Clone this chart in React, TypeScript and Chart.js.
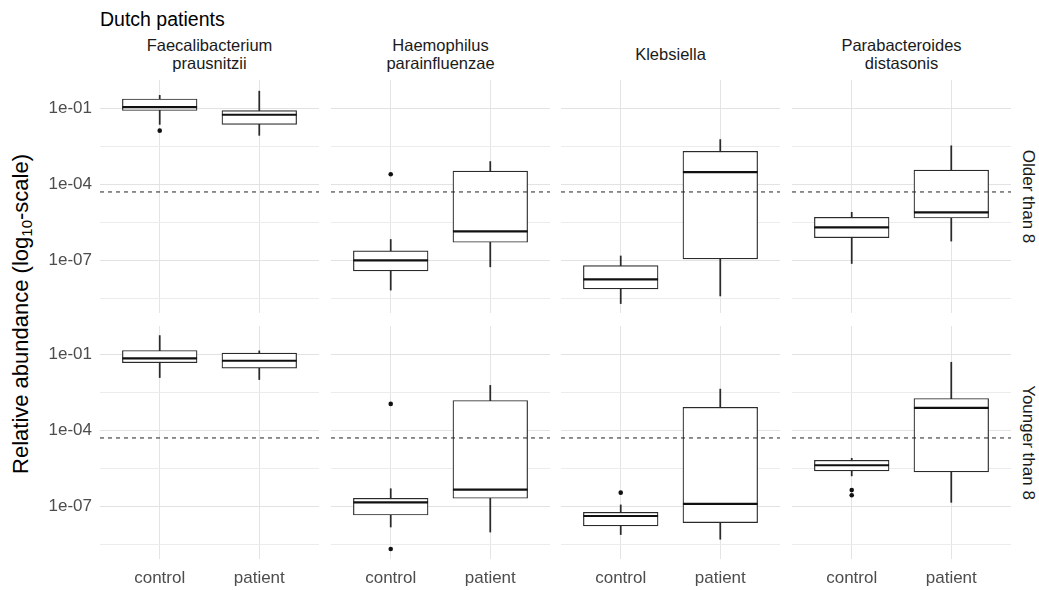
import React, { useEffect, useRef } from "react";
import { Chart, registerables } from "chart.js";

Chart.register(...registerables);

// ---------- data ----------
const groups = ["control", "patient"];
const groupPositions = [1, 2];
const species = [
  ["Faecalibacterium", "prausnitzii"],
  ["Haemophilus", "parainfluenzae"],
  ["Klebsiella"],
  ["Parabacteroides", "distasonis"],
];
const ageGroups = ["Older than 8", "Younger than 8"];
const tickValues = [1e-7, 1e-4, 1e-1];
const tickLabels = ["1e-07", "1e-04", "1e-01"];
const minorTickValues = [3.16e-9, 3.16e-6, 3.16e-3];
const threshold = 5e-5;
const yMin = 8.5e-10;
const yMax = 1.29;

// indexed [ageGroup][species][group]
const upperWhisker = [
  [[3.2e-1, 4.7e-1], [6.7e-7, 7.9e-4], [1.5e-7, 5.8e-3], [7.9e-6, 3.3e-3]],
  [[5.4e-1, 1.35e-1], [5.0e-7, 5.9e-3], [1.15e-7, 4.2e-3], [7.9e-6, 4.8e-2]],
];
const upperQuartile = [
  [[2.3e-1, 8.1e-2], [2.4e-7, 3.3e-4], [6.3e-8, 2.0e-3], [5.0e-6, 3.6e-4]],
  [[1.4e-1, 1.1e-1], [2.1e-7, 1.5e-3], [5.9e-8, 8.1e-4], [6.6e-6, 1.8e-3]],
];
const medians = [
  [[1.1e-1, 5.5e-2], [1.0e-7, 1.4e-6], [1.8e-8, 3.0e-4], [2.0e-6, 7.8e-6]],
  [[6.8e-2, 5.5e-2], [1.45e-7, 4.6e-7], [4.2e-8, 1.26e-7], [4.2e-6, 7.6e-4]],
];
const lowerQuartile = [
  [[8.1e-2, 2.3e-2], [3.9e-8, 5.2e-7], [7.6e-9, 1.15e-7], [7.9e-7, 4.7e-6]],
  [[4.6e-2, 2.8e-2], [4.6e-8, 2.1e-7], [1.7e-8, 2.3e-8], [2.5e-6, 2.3e-6]],
];
const lowerWhisker = [
  [[2.3e-2, 8.5e-3], [6.8e-9, 5.6e-8], [2.0e-9, 4.0e-9], [7.6e-8, 5.8e-7]],
  [[1.2e-2, 1.0e-2], [1.55e-8, 9.8e-9], [7.8e-9, 5.1e-9], [1.6e-6, 1.45e-7]],
];
const outliers = [
  [[[1.3e-2], []], [[2.5e-4], []], [[], []], [[], []]],
  [[[], []], [[1.1e-3, 2.1e-9], []], [[3.5e-7], []], [[4.4e-7, 2.75e-7], []]],
];

// ---------- layout ----------
const PANEL_LEFTS = [100, 331, 561, 792];
const PANEL_TOPS = [80, 326];
const PANEL_W = 219;
const PANEL_H = 233;
const YAXIS_W = 60;
const XAXIS_H = 36;
const FONT = "'Liberation Sans', Arial, Helvetica, sans-serif";
const BOX_COLOR = "#2a2a2a";

function Panel({ row, col }: { row: number; col: number }) {
  const ref = useRef<HTMLCanvasElement | null>(null);
  const showY = col === 0;
  const showX = row === 1;
  const width = PANEL_W + (showY ? YAXIS_W : 0);
  const height = PANEL_H + (showX ? XAXIS_H : 0);
  const left = PANEL_LEFTS[col] - (showY ? YAXIS_W : 0);
  const top = PANEL_TOPS[row];

  useEffect(() => {
    if (!ref.current) return;
    const boxThickness = (0.75 / 2.2) * PANEL_W;
    const boxData = groupPositions.map((x, g) => ({
      x,
      y: [lowerQuartile[row][col][g], upperQuartile[row][col][g]],
    }));
    const whiskerData = groupPositions.map((x, g) => ({
      x,
      y: [lowerWhisker[row][col][g], upperWhisker[row][col][g]],
    }));
    const medianData = groupPositions.map((x, g) => ({ x, y: medians[row][col][g] }));
    const outlierData: { x: number; y: number }[] = [];
    groupPositions.forEach((x, g) => {
      outliers[row][col][g].forEach((v) => outlierData.push({ x, y: v }));
    });
    const gridValues = [...minorTickValues, ...tickValues].sort((a, b) => a - b);

    const chart = new Chart(ref.current, {
      type: "bar",
      data: {
        datasets: [
          {
            type: "line",
            data: [
              { x: 0.4, y: threshold },
              { x: 2.6, y: threshold },
            ],
            borderColor: "#222222",
            borderWidth: 1,
            borderDash: [4, 4],
            pointRadius: 0,
            order: 0,
          } as any,
          {
            type: "scatter",
            data: outlierData,
            pointRadius: 2.3,
            pointBackgroundColor: "#111111",
            pointBorderWidth: 0,
            order: 1,
          } as any,
          {
            type: "scatter",
            data: medianData,
            pointStyle: "line",
            pointRadius: boxThickness / 2,
            pointBorderColor: "#111111",
            pointBorderWidth: 2.2,
            order: 2,
          } as any,
          {
            type: "bar",
            data: boxData,
            backgroundColor: "#ffffff",
            borderColor: BOX_COLOR,
            borderWidth: 1.2,
            borderSkipped: false,
            barThickness: boxThickness,
            grouped: false,
            order: 3,
          } as any,
          {
            type: "bar",
            data: whiskerData,
            backgroundColor: BOX_COLOR,
            borderWidth: 0,
            barThickness: 1.1,
            grouped: false,
            order: 4,
          } as any,
        ],
      },
      options: {
        animation: false,
        responsive: false,
        maintainAspectRatio: false,
        events: [],
        layout: { padding: 0, autoPadding: false },
        plugins: { legend: { display: false }, tooltip: { enabled: false } },
        scales: {
          x: {
            type: "linear",
            min: 0.4,
            max: 2.6,
            bounds: "data",
            offset: false,
            afterBuildTicks: (scale: any) => {
              scale.ticks = groupPositions.map((v) => ({ value: v }));
            },
            afterFit: (scale: any) => {
              scale.height = showX ? XAXIS_H : 0;
              scale.paddingLeft = 0;
              scale.paddingRight = 0;
            },
            grid: { color: "#e4e4e4", lineWidth: 1, drawTicks: false, offset: false },
            border: { display: false },
            ticks: {
              display: showX,
              autoSkip: false,
              maxRotation: 0,
              padding: 9,
              color: "#4d4d4d",
              font: { family: FONT, size: 17 },
              callback: (v: any) => groups[groupPositions.indexOf(Number(v))] ?? "",
            },
          },
          y: {
            type: "logarithmic",
            min: yMin,
            max: yMax,
            bounds: "data",
            afterBuildTicks: (scale: any) => {
              scale.ticks = gridValues.map((v) => ({ value: v }));
            },
            afterFit: (scale: any) => {
              scale.width = showY ? YAXIS_W : 0;
              scale.paddingTop = 0;
              scale.paddingBottom = 0;
            },
            grid: {
              drawTicks: false,
              lineWidth: 1,
              color: (ctx: any) =>
                ctx.tick && tickValues.some((t) => Math.abs(t - ctx.tick.value) / t < 1e-6)
                  ? "#e2e2e2"
                  : "#ececec",
            },
            border: { display: false },
            ticks: {
              display: showY,
              autoSkip: false,
              padding: 8,
              color: "#4d4d4d",
              font: { family: FONT, size: 17 },
              callback: (v: any) => {
                const i = tickValues.findIndex((t) => Math.abs(t - Number(v)) / t < 1e-6);
                return i >= 0 ? tickLabels[i] : "";
              },
            },
          },
        },
      } as any,
    });
    return () => chart.destroy();
  }, [row, col]);

  return (
    <canvas
      ref={ref}
      width={width}
      height={height}
      style={{ position: "absolute", left, top, width, height }}
    />
  );
}

export default function App() {
  const panels: React.ReactNode[] = [];
  for (let r = 0; r < 2; r++) {
    for (let c = 0; c < 4; c++) {
      panels.push(<Panel key={`${r}-${c}`} row={r} col={c} />);
    }
  }
  return (
    <div
      style={{
        position: "fixed",
        left: 0,
        top: 0,
        width: 1039,
        height: 590,
        background: "#ffffff",
        overflow: "hidden",
        fontFamily: FONT,
      }}
    >
      <div
        style={{
          position: "absolute",
          left: 100,
          top: 9.5,
          fontSize: 19.5,
          lineHeight: "19.5px",
          color: "#000",
          whiteSpace: "nowrap",
        }}
      >
        Dutch patients
      </div>
      {species.map((lines, c) => (
        <div
          key={c}
          style={{
            position: "absolute",
            left: PANEL_LEFTS[c],
            width: PANEL_W,
            top: 33.5,
            height: 40,
            display: "flex",
            flexDirection: "column",
            justifyContent: "center",
            alignItems: "center",
            fontSize: 16.5,
            lineHeight: "18px",
            color: "#1a1a1a",
            whiteSpace: "nowrap",
          }}
        >
          {lines.map((l, i) => (
            <div key={i}>{l}</div>
          ))}
        </div>
      ))}
      {ageGroups.map((a, r) => (
        <div
          key={a}
          style={{
            position: "absolute",
            left: 1028 - 100,
            width: 200,
            top: PANEL_TOPS[r] + PANEL_H / 2 - 8.5,
            height: 17,
            lineHeight: "17px",
            fontSize: 17,
            textAlign: "center",
            color: "#1a1a1a",
            transform: "rotate(90deg)",
            transformOrigin: "50% 50%",
            whiteSpace: "nowrap",
          }}
        >
          {a}
        </div>
      ))}
      <div
        style={{
          position: "absolute",
          left: 21 - 200,
          width: 400,
          top: 314 - 11,
          height: 22,
          lineHeight: "22px",
          fontSize: 22,
          textAlign: "center",
          color: "#000",
          transform: "rotate(-90deg)",
          transformOrigin: "50% 50%",
          whiteSpace: "nowrap",
        }}
      >
        Relative abundance (log
        <sub style={{ fontSize: "0.68em", lineHeight: 0, verticalAlign: "-0.3em" }}>10</sub>
        -scale)
      </div>
      {panels}
    </div>
  );
}
